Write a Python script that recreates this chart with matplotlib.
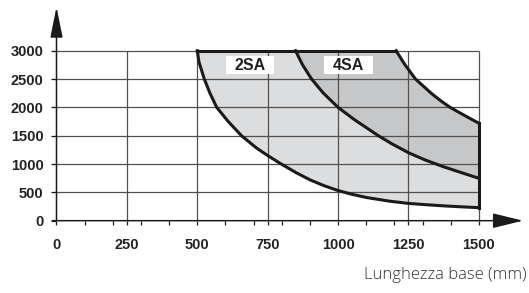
import numpy as np
import matplotlib.pyplot as plt
from matplotlib.patches import Rectangle

# axis ticks
x_ticks = [0, 250, 500, 750, 1000, 1250, 1500]
x_minor = [100, 200, 300, 400, 600, 700, 800, 900, 1100, 1200, 1300, 1400]
y_ticks = [0, 500, 1000, 1500, 2000, 2500, 3000]

# 2SA limit curve
sa2_x = [500, 506, 525, 545, 569, 610, 657, 711, 750, 794, 850, 900, 950, 1000,
         1050, 1100, 1182, 1250, 1310, 1374, 1437, 1500]
sa2_y = [3000, 2800, 2500, 2250, 2000, 1750, 1500, 1280, 1150, 1013, 850, 722, 618, 532,
         465, 410, 345, 305, 283, 262, 245, 230]

# 4SA inner / outer limit curves
sa4_in_x = [849, 874, 906, 948, 1000, 1056, 1113, 1143, 1190, 1250, 1310, 1374, 1437, 1500]
sa4_in_y = [3000, 2750, 2500, 2250, 2000, 1790, 1600, 1500, 1360, 1200, 1070, 953, 850, 748]
sa4_out_x = [1206, 1238, 1275, 1333, 1365, 1398, 1450, 1500]
sa4_out_y = [3000, 2750, 2500, 2240, 2115, 2000, 1855, 1720]

light = '#dcdddf'
dark = '#c6c7c9'
line_c = '#1a1a1a'
grid_c = '#505050'
tick_font = ['Liberation Sans', 'DejaVu Sans']

fig = plt.figure(figsize=(5.29, 2.93), dpi=100)
ax = fig.add_axes([0.1068, 0.2468, 0.8819, 0.7293])
ax.set_xlim(0, 1657)
ax.set_ylim(0, 3771)

# shaded areas
ax.fill(np.r_[sa2_x, sa4_in_x[::-1]], np.r_[sa2_y, sa4_in_y[::-1]],
        color=light, lw=0, zorder=1)
ax.fill(np.r_[sa4_in_x, sa4_out_x[::-1]], np.r_[sa4_in_y, sa4_out_y[::-1]],
        color=dark, lw=0, zorder=1)

# grid box
ax.hlines(y_ticks[1:], 0, x_ticks[-1], colors=grid_c, lw=0.9, zorder=2)
ax.vlines(x_ticks[1:], 0, y_ticks[-1], colors=grid_c, lw=0.9, zorder=2)

# boundaries
for xs, ys in [(sa2_x, sa2_y), (sa4_in_x, sa4_in_y), (sa4_out_x, sa4_out_y)]:
    ax.plot(xs, ys, color=line_c, lw=2.2, zorder=3, solid_joinstyle='round')
ax.plot([sa2_x[0], sa4_out_x[0]], [y_ticks[-1], y_ticks[-1]], color=line_c, lw=2.2, zorder=3)
ax.plot([x_ticks[-1], x_ticks[-1]], [sa2_y[-1], sa4_out_y[-1]], color=line_c, lw=2.2, zorder=3)

# labels in white boxes
for x0, w, name in [(602, 170, '2SA'), (951, 173, '4SA')]:
    ax.add_patch(Rectangle((x0, 2590), w, 316, fc='white', ec='none', zorder=4))
    ax.text(x0 + w / 2, 2745, name, ha='center', va='center', fontsize=11.5,
            family=tick_font, fontweight='bold', color='#222222', zorder=5)

# axes with arrows
for spine in ax.spines.values():
    spine.set_visible(False)
ax.annotate('', xy=(1, 0), xytext=(-0.009, 0), xycoords='axes fraction',
            arrowprops=dict(arrowstyle='-|>,head_length=0.94,head_width=0.23',
                            mutation_scale=20, color=line_c, lw=1.1,
                            shrinkA=0, shrinkB=0))
ax.annotate('', xy=(0, 1), xytext=(0, 0), xycoords='axes fraction',
            arrowprops=dict(arrowstyle='-|>,head_length=0.94,head_width=0.19',
                            mutation_scale=20, color=line_c, lw=1.1,
                            shrinkA=0, shrinkB=0))

ax.set_xticks(x_ticks)
ax.set_xticks(x_minor, minor=True)
ax.set_yticks(y_ticks)
ax.tick_params(axis='x', which='both', direction='out', length=3, width=0.9,
               pad=9.5, color=line_c)
ax.tick_params(axis='y', direction='out', length=3.3, width=0.9, pad=6, color=line_c)
for lab in ax.get_xticklabels() + ax.get_yticklabels():
    lab.set_fontfamily(tick_font)
    lab.set_fontweight('bold')
    lab.set_fontsize(10.5)
    lab.set_color('#222222')

fig.text(527 / 529, 1 - 279 / 293, 'Lunghezza base (mm)', ha='right', va='baseline',
         fontsize=12, family='Open Sans', fontweight='light', color='#333333')

fig.savefig('out.png', dpi=100)
